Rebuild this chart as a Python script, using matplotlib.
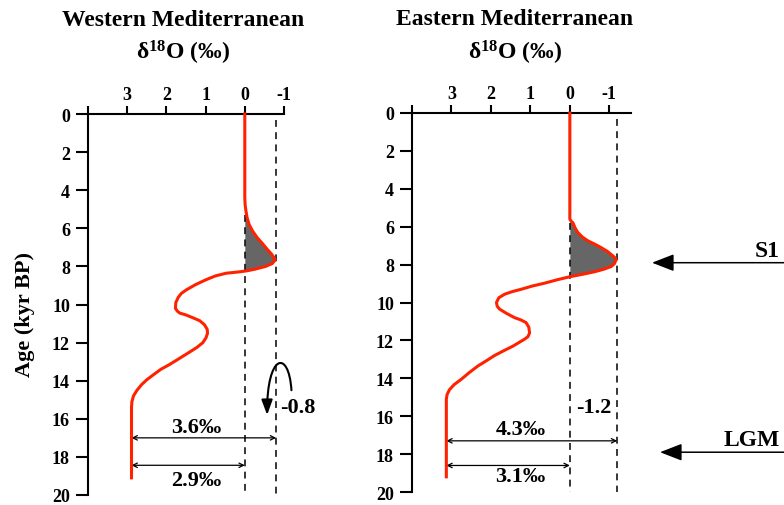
import matplotlib
matplotlib.use('Agg')
import matplotlib.pyplot as plt
import numpy as np
from matplotlib.patches import FancyArrowPatch
from matplotlib.path import Path

plt.rcParams['font.family'] = ['Liberation Serif', 'DejaVu Serif']
plt.rcParams['font.weight'] = 'bold'
plt.rcParams['mathtext.fontset'] = 'custom'
plt.rcParams['mathtext.rm'] = 'Liberation Serif'
plt.rcParams['mathtext.it'] = 'Liberation Serif:italic'
plt.rcParams['mathtext.bf'] = 'Liberation Serif:bold'

# Western Mediterranean d18O record (value in permil, age in kyr BP)
west_d18o = [0, 0, 0, -0.01, -0.03, -0.06, -0.11, -0.2, -0.32, -0.45, -0.57, -0.68,
             -0.75, -0.77, -0.7, -0.53, -0.25, -0.03, 0.2, 0.48, 0.75, 0.99, 1.25,
             1.49, 1.62, 1.70, 1.76, 1.77, 1.72, 1.66, 1.5, 1.32, 1.15, 1.03, 0.96,
             0.95, 0.99, 1.07, 1.22, 1.41, 1.66, 1.92, 2.14, 2.34, 2.5, 2.63, 2.75,
             2.84, 2.88, 2.89, 2.89]
west_age = [0, 2, 4.4, 4.8, 5.1, 5.45, 5.8, 6.15, 6.5, 6.8, 7.1, 7.35,
            7.55, 7.67, 7.85, 8.0, 8.15, 8.24, 8.3, 8.36, 8.5, 8.7, 8.95,
            9.23, 9.42, 9.63, 9.9, 10.2, 10.35, 10.45, 10.55, 10.7, 10.85, 11.06, 11.3,
            11.5, 11.75, 12.0, 12.25, 12.5, 12.82, 13.15, 13.4, 13.7, 13.95, 14.2, 14.5,
            14.8, 15.1, 15.4, 19.1]

# Eastern Mediterranean d18O record
east_d18o = [0, 0, 0, -0.03, -0.08, -0.13, -0.2, -0.32, -0.46, -0.63, -0.79, -0.95,
             -1.09, -1.15, -1.17, -1.13, -1.05, -0.85, -0.62, -0.3, 0, 0.32, 0.64,
             0.95, 1.23, 1.45, 1.65, 1.8, 1.86, 1.84, 1.78, 1.6, 1.40, 1.24, 1.11,
             1.04, 1.02, 1.06, 1.15, 1.28, 1.44, 1.68, 1.91, 2.12, 2.33, 2.55, 2.75,
             2.93, 3.05, 3.11, 3.13, 3.13]
east_age = [0, 2, 5.6, 5.7, 5.8, 6.05, 6.3, 6.55, 6.75, 6.92, 7.1, 7.3,
            7.54, 7.65, 7.75, 7.95, 8.1, 8.25, 8.38, 8.52, 8.64, 8.8, 8.98,
            9.13, 9.3, 9.42, 9.56, 9.75, 10.0, 10.2, 10.35, 10.58, 10.8, 10.92, 11.06,
            11.3, 11.6, 11.8, 11.94, 12.1, 12.3, 12.55, 12.8, 13.08, 13.35, 13.7, 14.05,
            14.33, 14.6, 14.85, 15.1, 19.2]

# holocene minimum and LGM plateau
west_min, west_lgm = -0.8, 2.89
east_min, east_lgm = -1.2, 3.13
west_labels = ['3.6‰', '2.9‰', '-0.8']
east_labels = ['4.3‰', '3.1‰', '-1.2']

xticks = [4, 3, 2, 1, 0, -1]
xticklabels = ['', '3', '2', '1', '0', '-1']
yticks = list(range(0, 21, 2))

red = '#ff2200'
dash = (0, (4.5, 3.5))

fig = plt.figure(figsize=(7.84, 5.06), dpi=100)
ax1 = fig.add_axes([88/784, 1 - 496/506, 196/784, 381/506])
ax2 = fig.add_axes([412/784, 1 - 493/506, 219/784, 379/506])


def style(ax, xmax):
    ax.set_xlim(4, xmax)
    ax.set_ylim(20, 0)
    for s in ['right', 'bottom']:
        ax.spines[s].set_visible(False)
    for s in ['left', 'top']:
        ax.spines[s].set_linewidth(1.5)
    ax.xaxis.tick_top()
    ax.set_xticks(xticks)
    ax.set_xticklabels(xticklabels)
    ax.set_yticks(yticks)
    ax.tick_params(axis='x', direction='out', length=6, width=1.5, labelsize=13, pad=2)
    ax.tick_params(axis='y', direction='out', length=9, width=1.5, labelsize=13, pad=4)


def panel(ax, d18o, age, vmin, lgm, shade_top, labels, arrow_ages, text_ages):
    d = np.array(d18o)
    a = np.array(age)
    ax.fill_betweenx(a, d, 0, where=(d <= 0) & (a > 4.5) & (a < 9), interpolate=True,
                     color='#666666', lw=0)
    ax.plot([0, 0], [shade_top, 20], color='k', lw=1.1, ls=dash, clip_on=False)
    ax.plot([vmin, vmin], [0.3, 20], color='k', lw=1.1, ls=dash, clip_on=False)
    ax.plot(d, a, color=red, lw=2.2, clip_on=False, zorder=5, solid_joinstyle='round')
    # dimension arrows
    for xend, yy in zip([vmin, 0], arrow_ages):
        ax.annotate('', xy=(xend, yy), xytext=(lgm, yy),
                    arrowprops=dict(arrowstyle='<->', lw=0.9, color='k',
                                    shrinkA=0, shrinkB=0, mutation_scale=8))
    ax.text(1.25, text_ages[0], labels[0], ha='center', va='center', fontsize=16)
    ax.text(1.25, text_ages[1], labels[1], ha='center', va='center', fontsize=16)


style(ax1, -1.0)
style(ax2, -1.55)

panel(ax1, west_d18o, west_age, west_min, west_lgm, 5.3, west_labels,
      [17.0, 18.44], [16.45, 19.2])
panel(ax2, east_d18o, east_age, east_min, east_lgm, 5.8, east_labels,
      [17.3, 18.6], [16.65, 19.16])

ax1.text(-0.91, 15.36, west_labels[2], ha='left', va='center', fontsize=16, clip_on=False)
ax2.text(-0.6, 15.5, east_labels[2], ha='center', va='center', fontsize=16)

# curved arrow in the western panel
verts = [(-1.19, 14.5), (-1.12, 12.3), (-0.56, 12.6), (-0.57, 15.8)]
codes = [Path.MOVETO, Path.CURVE4, Path.CURVE4, Path.CURVE4]
curl = FancyArrowPatch(path=Path(verts, codes), arrowstyle='-|>,head_length=0.6,head_width=0.22',
                       mutation_scale=15, lw=1.5, color='k', clip_on=False)
ax1.add_patch(curl)

# titles
fig.text(183/784, 1 - 26/506, 'Western Mediterranean', ha='center', va='baseline', fontsize=17)
fig.text(183/784, 1 - 60/506, r'$\mathrm{\delta}^{\mathbf{18}}$O (‰)', ha='center',
         va='baseline', fontsize=17)
fig.text(515/784, 1 - 25/506, 'Eastern Mediterranean', ha='center', va='baseline', fontsize=17)
fig.text(515/784, 1 - 60/506, r'$\mathrm{\delta}^{\mathbf{18}}$O (‰)', ha='center',
         va='baseline', fontsize=17)
fig.text(25/784, 1 - 315/506, 'Age (kyr BP)', rotation=90, ha='center', va='center', fontsize=16)

# event markers on the right
for name, yy, xhead, ytxt in [('S1', 7.9, 652/784, 251.7), ('LGM', 17.9, 660/784, 441)]:
    ax2.annotate('', xy=(xhead, yy), xycoords=('figure fraction', 'data'),
                 xytext=(1.0, yy), textcoords=('figure fraction', 'data'),
                 arrowprops=dict(arrowstyle='-|>,head_length=0.9,head_width=0.35',
                                 lw=1.1, color='k', shrinkA=0, shrinkB=0,
                                 mutation_scale=15), annotation_clip=False)
    fig.text(780/784, 1 - ytxt/506, name, ha='right', va='center', fontsize=17)

fig.savefig('out.png', dpi=100)
